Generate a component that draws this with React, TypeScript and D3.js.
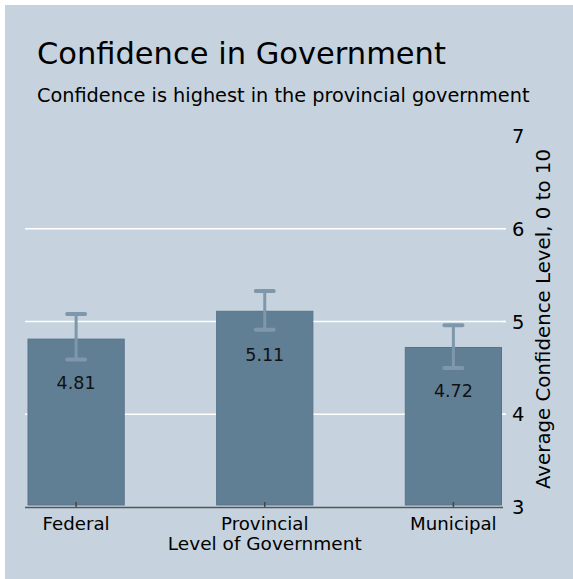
import { scaleBand, scaleLinear } from 'd3'

const W = 573
const H = 579

const CATEGORIES = ['Federal', 'Provincial', 'Municipal']
const MEANS = [4.81, 5.11, 4.72]
const CI_LOW = [4.59, 4.91, 4.5]
const CI_HIGH = [5.08, 5.33, 4.96]
const Y_TICKS = [3, 4, 5, 6, 7]
const GRID_TICKS = [4, 5, 6]

const FONT = '"DejaVu Sans", Verdana, sans-serif'
const BG = '#c6d3de'
const BAR = '#617f94'
const BAR_EDGE = '#56738a'
const ERR = '#7f97aa'

export default function App() {
  const x = scaleBand<string>().domain(CATEGORIES).range([28, 501.5]).paddingInner(0.49).paddingOuter(0)
  const y = scaleLinear().domain([3, 7]).range([507, 136])
  const plotLeft = 25
  const plotRight = 503

  return (
    <svg
      width={W}
      height={H}
      viewBox={`0 0 ${W} ${H}`}
      style={{ position: 'absolute', left: 0, top: 0, fontFamily: FONT }}
    >
      <rect width={W} height={H} fill="#fff" />
      <rect x={5} y={5} width={W - 5} height={H - 5} fill={BG} />

      <text x={37} y={64} fontSize={30.5} fill="#000">
        Confidence in Government
      </text>
      <text x={37} y={102} fontSize={19.3} fill="#000">
        Confidence is highest in the provincial government
      </text>

      {/* grid */}
      {GRID_TICKS.map((t) => (
        <line key={t} x1={plotLeft} x2={plotRight + 2} y1={y(t)} y2={y(t)} stroke="#fff" strokeWidth={1.6} />
      ))}

      {/* bars */}
      {CATEGORIES.map((c, i) => {
        const bx = x(c) as number
        const bw = x.bandwidth()
        const cx = bx + bw / 2
        return (
          <g key={c}>
            <rect
              x={bx}
              y={y(MEANS[i])}
              width={bw}
              height={y(3) - y(MEANS[i]) - 2}
              fill={BAR}
              stroke={BAR_EDGE}
              strokeWidth={1}
            />
            <line x1={cx} x2={cx} y1={y(CI_HIGH[i])} y2={y(CI_LOW[i])} stroke={ERR} strokeWidth={3} />
            <line x1={cx - 9} x2={cx + 9} y1={y(CI_HIGH[i])} y2={y(CI_HIGH[i])} stroke={ERR} strokeWidth={4} strokeLinecap="round" />
            <line x1={cx - 9} x2={cx + 9} y1={y(CI_LOW[i])} y2={y(CI_LOW[i])} stroke={ERR} strokeWidth={4} strokeLinecap="round" />
            <text x={cx} y={y(MEANS[i]) + 50} fontSize={17.5} textAnchor="middle" fill="#111">
              {MEANS[i].toFixed(2)}
            </text>
            <line x1={cx} x2={cx} y1={y(3)} y2={y(3) - 5} stroke="#444" strokeWidth={1.5} />
            <text x={cx} y={530} fontSize={18.2} textAnchor="middle" fill="#000">
              {c}
            </text>
          </g>
        )
      })}

      {/* x axis line */}
      <line x1={plotLeft} x2={plotRight} y1={y(3) + 0.5} y2={y(3) + 0.5} stroke="#555" strokeWidth={1.6} />

      <text x={(x('Provincial') as number) + x.bandwidth() / 2} y={550} fontSize={18.5} textAnchor="middle" fill="#000">
        Level of Government
      </text>

      {/* right y axis */}
      {Y_TICKS.map((t) => (
        <g key={t}>
          {GRID_TICKS.includes(t) && (
            <line x1={plotRight} x2={plotRight + 3} y1={y(t)} y2={y(t)} stroke="#fff" strokeWidth={1.5} />
          )}
          <text x={512} y={y(t)} dy="0.36em" fontSize={19.5} fill="#000">
            {t}
          </text>
        </g>
      ))}
      <text
        transform={`translate(550, 319) rotate(-90)`}
        fontSize={19.8}
        textAnchor="middle"
        fill="#000"
      >
        Average Confidence Level, 0 to 10
      </text>
    </svg>
  )
}
